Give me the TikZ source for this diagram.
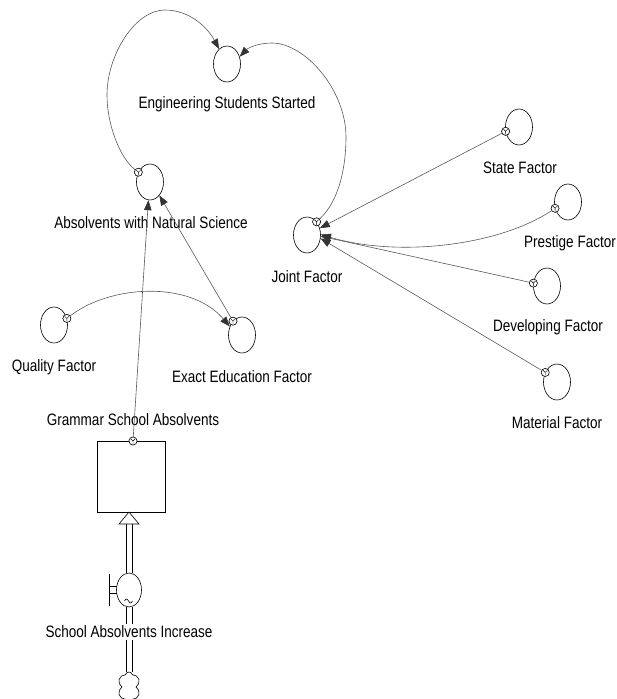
\documentclass[tikz,border=0pt]{standalone}
\usepackage{fontspec}
\setmainfont{Liberation Sans}[FakeStretch=0.82]
\usetikzlibrary{arrows.meta,shapes.geometric,shapes.symbols}

\begin{document}
\begin{tikzpicture}[x=1pt,y=-1pt,
  aux/.style={ellipse, draw, line width=0.6pt, minimum width=27pt, minimum height=36pt, inner sep=0pt},
  lbl/.style={font=\fontsize{16.5}{18}\selectfont, inner sep=1pt},
  link/.style={draw=black!65, line width=0.6pt, -{Triangle[length=10pt,width=7.5pt,fill=black!80,color=black!80]}},
  tap/.style={circle, draw, line width=0.5pt, fill=white, inner sep=0pt, minimum size=8pt,
    path picture={\draw[line width=0.4pt]
      (path picture bounding box.center) -- ++(-2.2pt,2.2pt)
      (path picture bounding box.center) -- ++(2.2pt,2.2pt)
      (path picture bounding box.center) -- ++(0pt,-3pt);}},
  rail/.style={line width=0.6pt},
]
\useasboundingbox (0,0) rectangle (616,699);

% auxiliaries
\node[aux] (ess) at (227,64) {};
\node[aux] (ans) at (150,182) {};
\node[aux] (jf)  at (307,235) {};
\node[aux] (sf)  at (519,127) {};
\node[aux] (pf)  at (568,202) {};
\node[aux] (df)  at (547,286) {};
\node[aux] (mf)  at (557,382) {};
\node[aux] (eef) at (242,335) {};
\node[aux] (qf)  at (54,325) {};

% labels
\node[lbl] (ess-l) at (227,104) {Engineering Students Started};
\node[lbl] (ans-l) at (151,223) {Absolvents with Natural Science};
\node[lbl] (jf-l)  at (307,277) {Joint Factor};
\node[lbl] (sf-l)  at (520,168) {State Factor};
\node[lbl] (pf-l)  at (570,243) {Prestige Factor};
\node[lbl] (df-l)  at (548,327) {Developing Factor};
\node[lbl] (mf-l)  at (557,423) {Material Factor};
\node[lbl] (eef-l) at (242,377) {Exact Education Factor};
\node[lbl] (qf-l)  at (54,367)  {Quality Factor};
\node[lbl] (gsa-l) at (133,420) {Grammar School Absolvents};

% stock
\node[draw, line width=0.6pt, minimum width=68pt, minimum height=71pt, inner sep=0pt] (gsa) at (131,476.5) {};

% valve and source cloud
\node[ellipse, draw, line width=0.6pt, minimum width=25pt, minimum height=34pt, inner sep=0pt] (valve) at (129,590) {};
\node[cloud, draw, line width=0.6pt, cloud puffs=6, aspect=0.8, minimum width=23pt, minimum height=30pt, inner sep=0pt] (src) at (129,687) {};
\coordinate (inflow) at (129,524);
\coordinate (tip) at (129,512);

% flow pipe: two parallel rails from the cloud through the valve into the stock
\draw[rail] ([xshift=-3pt]src.north) -- ([xshift=-3pt]valve.south)
            ([xshift=3pt]src.north) -- ([xshift=3pt]valve.south);
\draw[rail] ([xshift=-3pt]valve.north) -- ([xshift=-3pt]inflow)
            ([xshift=3pt]valve.north) -- ([xshift=3pt]inflow);
\draw[rail, fill=white] (119,524) -- (tip) -- (139,524) -- cycle;
\draw[rail] (109,574) -- (109,606);
\draw[rail] (109,586.5) -- (117,586.5) (109,593.5) -- (117,593.5);
\draw[rail] (124.5,601) sin (126.5,599) cos (128.5,601) sin (130.5,603) cos (132.5,601);
\node[lbl, fill=white, inner sep=2pt] (sai-l) at (129,632) {School Absolvents Increase};

% connector origins
\node[tap] (t-ans) at (ans.140) {};
\node[tap] (t-jf)  at (jf.54) {};
\node[tap] (t-sf)  at (sf.198) {};
\node[tap] (t-pf)  at (pf.206) {};
\node[tap] (t-df)  at (df.168) {};
\node[tap] (t-mf)  at (mf.141) {};
\node[tap] (t-eef) at (eef.123) {};
\node[tap] (t-qf)  at (qf.27) {};
\node[tap] (t-gsa) at (133,441) {};

% connectors
\draw[link] (t-ans) .. controls (120,158) and (107,125) .. (107,95)
  .. controls (107,55) and (135,10) .. (165,10)
  .. controls (190,10) and (208,28) .. (ess.118);
\draw[link] (t-jf) .. controls (340,200) and (346,165) .. (346,137)
  .. controls (346,90) and (305,43) .. (272,43)
  .. controls (258,43) and (248,48) .. (ess.30);
\draw[link] (t-sf) -- (jf.28);
\draw[link] (t-pf) .. controls (500,245) and (400,258) .. (jf.2);
\draw[link] (t-df) -- (jf.-5);
\draw[link] (t-mf) -- (jf.-14);
\draw[link] (t-qf) .. controls (110,285) and (190,280) .. (eef.145);
\draw[link] (t-eef) -- (ans.305);
\draw[link] (t-gsa) -- (ans.265);

% origins drawn again above the connector lines
\foreach \n in {ans.140,jf.54,sf.198,pf.206,df.168,mf.141,eef.123,qf.27}
  \node[tap] at (\n) {};
\node[tap] at (t-gsa) {};
\end{tikzpicture}
\end{document}
